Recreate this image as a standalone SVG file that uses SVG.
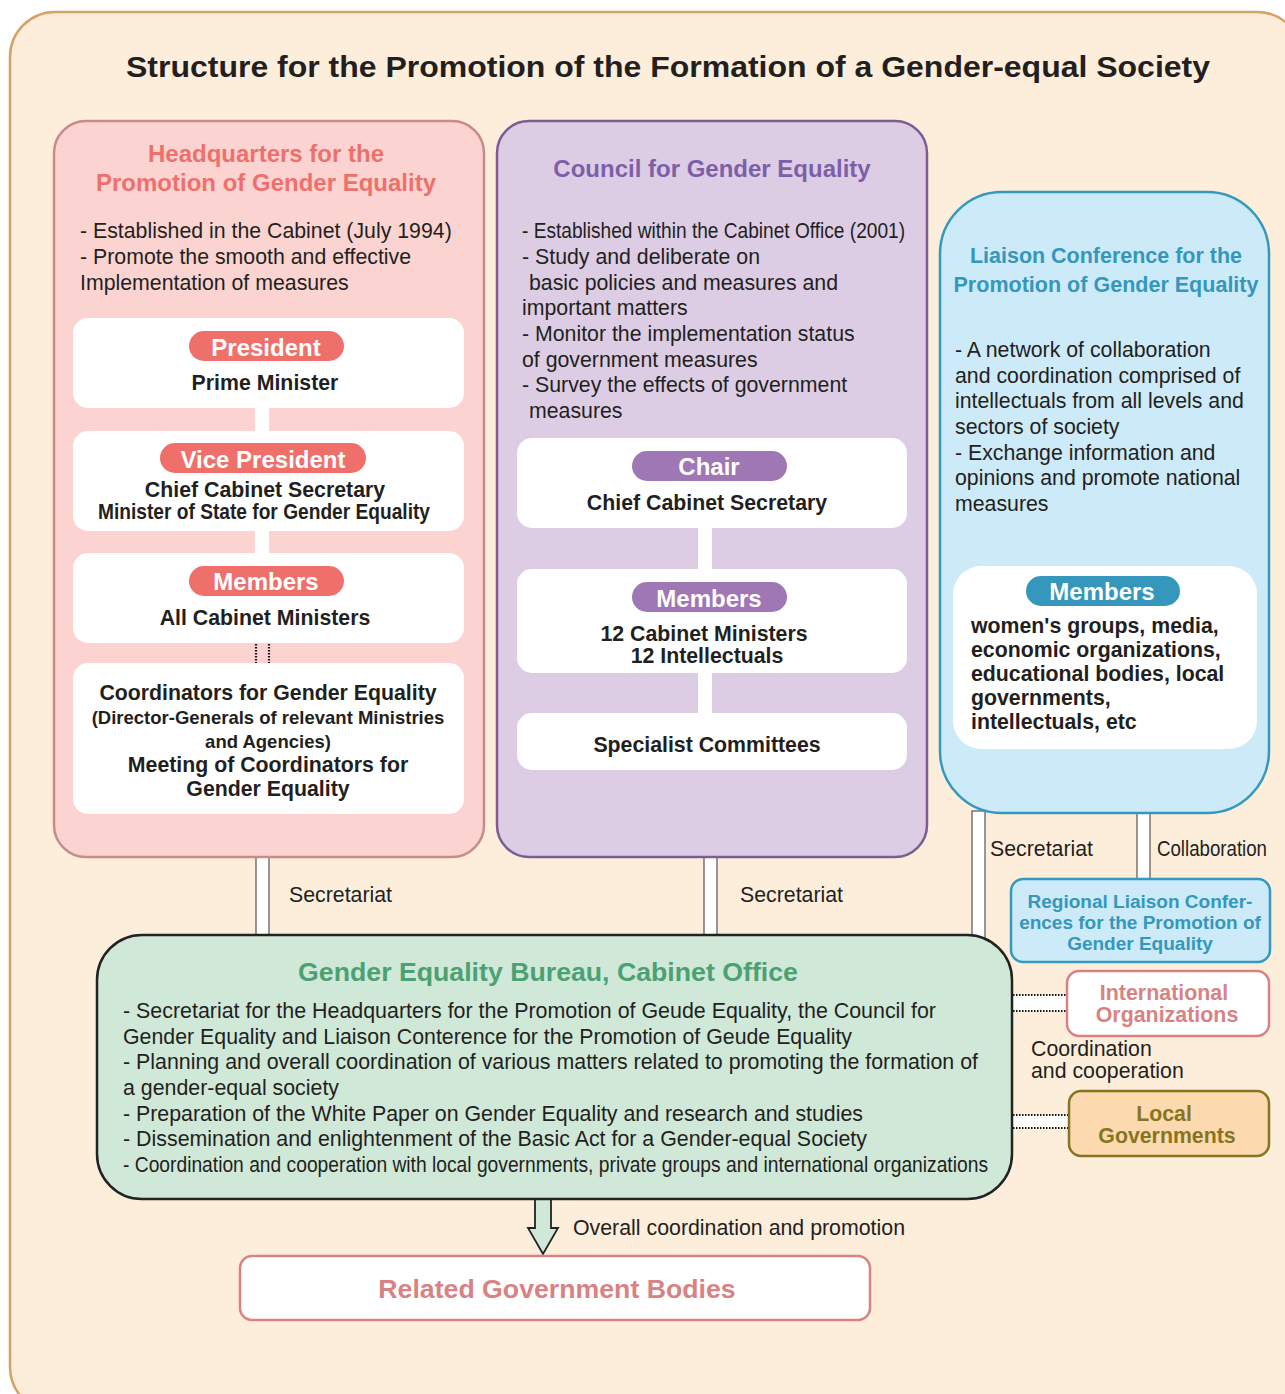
<svg xmlns="http://www.w3.org/2000/svg" width="1285" height="1394" viewBox="0 0 1285 1394">
<style>
text{font-family:"Liberation Sans",Arial,sans-serif;fill:#231f20}
.t{font-size:21.3px}
.b{font-weight:bold}
.c{text-anchor:middle}
.wb{fill:#fff;stroke:none}
.badge{font-size:24px;font-weight:bold;fill:#fff;text-anchor:middle}
.red{fill:#ef6f6b}
.pur{fill:#7c5fa8}
.blu{fill:#3597bb}
.grn{fill:#4ba172}
.pink{fill:#d98283}
.olive{fill:#857521}
.dbl{fill:#fff;stroke:#555;stroke-width:1.2}
.dot{stroke:#111;stroke-width:2.2;stroke-dasharray:1.5 1.5;fill:none}
</style>
<rect x="10" y="12" width="1292" height="1400" rx="45" fill="#fdeedc" stroke="#d6a165" stroke-width="2.5"/>
<text x="668" y="77" class="b c" font-size="30" textLength="1084" lengthAdjust="spacingAndGlyphs">Structure for the Promotion of the Formation of a Gender-equal Society</text>

<g id="connectors">
<rect class="dbl" x="256" y="856" width="13" height="81"/>
<rect class="dbl" x="704" y="856" width="13" height="81"/>
<rect class="dbl" x="972" y="811" width="13" height="132"/>
<rect class="dbl" x="1137" y="811" width="13" height="70"/>
<rect x="1013" y="995" width="54" height="16" fill="#fff"/>
<line class="dot" x1="1013" y1="995" x2="1067" y2="995"/>
<line class="dot" x1="1013" y1="1011" x2="1067" y2="1011"/>
<rect x="1013" y="1115" width="56" height="13" fill="#fff"/>
<line class="dot" x1="1013" y1="1115" x2="1069" y2="1115"/>
<line class="dot" x1="1013" y1="1128" x2="1069" y2="1128"/>
<text x="289" y="902" class="t">Secretariat</text>
<text x="740" y="902" class="t">Secretariat</text>
<text x="990" y="856" class="t">Secretariat</text>
<text x="1157" y="856" class="t" textLength="110" lengthAdjust="spacingAndGlyphs">Collaboration</text>
<text x="1031" y="1056" class="t">Coordination</text>
<text x="1031" y="1078" class="t">and cooperation</text>
<path d="M535 1199 V1228 H528 L543 1254 L558 1228 H551 V1199 Z" fill="#d0e8d8" stroke="#222" stroke-width="1.8" stroke-linejoin="miter"/>
<text x="573" y="1235" class="t" textLength="332" lengthAdjust="spacingAndGlyphs">Overall coordination and promotion</text>
</g>

<g id="headquarters">
<rect x="54" y="121" width="430" height="736" rx="32" fill="#fbd4d2" stroke="#c98a8a" stroke-width="2.5"/>
<text x="266" y="162" class="b c red" font-size="24">Headquarters for the</text>
<text x="266" y="191" class="b c red" font-size="24">Promotion of Gender Equality</text>
<text x="80" y="238" class="t">- Established in the Cabinet (July 1994)</text>
<text x="80" y="264" class="t">- Promote the smooth and effective</text>
<text x="80" y="290" class="t">Implementation of measures</text>
<rect class="wb" x="255" y="400" width="14" height="40"/>
<rect class="wb" x="255" y="525" width="14" height="35"/>
<line class="dot" x1="256" y1="644" x2="256" y2="663"/>
<line class="dot" x1="269" y1="644" x2="269" y2="663"/>
<g id="president">
<rect class="wb" x="73" y="318" width="391" height="90" rx="15"/>
<rect x="189" y="331" width="155" height="30" rx="15" fill="#ef6f6b"/>
<text x="266" y="356" class="badge">President</text>
<text x="265" y="390" class="t b c">Prime Minister</text>
</g>
<g id="vice-president">
<rect class="wb" x="73" y="431" width="391" height="100" rx="15"/>
<rect x="160" y="443" width="206" height="30" rx="15" fill="#ef6f6b"/>
<text x="263" y="468" class="badge">Vice President</text>
<text x="265" y="497" class="t b c">Chief Cabinet Secretary</text>
<text x="264" y="519" class="t b c" textLength="332" lengthAdjust="spacingAndGlyphs">Minister of State for Gender Equality</text>
</g>
<g id="hq-members">
<rect class="wb" x="73" y="553" width="391" height="90" rx="15"/>
<rect x="189" y="566" width="155" height="30" rx="15" fill="#ef6f6b"/>
<text x="266" y="590" class="badge">Members</text>
<text x="265" y="625" class="t b c">All Cabinet Ministers</text>
</g>
<g id="coordinators">
<rect class="wb" x="73" y="663" width="391" height="151" rx="15"/>
<text x="268" y="700" class="t b c">Coordinators for Gender Equality</text>
<text x="268" y="724" class="b c" font-size="18.5">(Director-Generals of relevant Ministries</text>
<text x="268" y="748" class="b c" font-size="18.5">and Agencies)</text>
<text x="268" y="772" class="t b c">Meeting of Coordinators for</text>
<text x="268" y="796" class="t b c">Gender Equality</text>
</g>
</g>

<g id="council">
<rect x="497" y="121" width="430" height="736" rx="32" fill="#dccde5" stroke="#7d5c94" stroke-width="2.5"/>
<text x="712" y="177" class="b c pur" font-size="24">Council for Gender Equality</text>
<text x="522" y="238" class="t" textLength="383" lengthAdjust="spacingAndGlyphs">- Established within the Cabinet Office (2001)</text>
<text x="522" y="264" class="t">- Study and deliberate on</text>
<text x="529" y="290" class="t">basic policies and measures and</text>
<text x="522" y="315" class="t">important matters</text>
<text x="522" y="341" class="t">- Monitor the implementation status</text>
<text x="522" y="367" class="t">of government measures</text>
<text x="522" y="392" class="t">- Survey the effects of government</text>
<text x="529" y="418" class="t">measures</text>
<rect class="wb" x="698" y="520" width="14" height="56"/>
<rect class="wb" x="698" y="665" width="14" height="55"/>
<g id="chair">
<rect class="wb" x="517" y="438" width="390" height="90" rx="15"/>
<rect x="632" y="451" width="155" height="30" rx="15" fill="#9f77b4"/>
<text x="709" y="475" class="badge">Chair</text>
<text x="707" y="510" class="t b c">Chief Cabinet Secretary</text>
</g>
<g id="council-members">
<rect class="wb" x="517" y="569" width="390" height="104" rx="15"/>
<rect x="632" y="582" width="155" height="30" rx="15" fill="#9f77b4"/>
<text x="709" y="607" class="badge">Members</text>
<text x="704" y="641" class="t b c">12 Cabinet Ministers</text>
<text x="707" y="663" class="t b c">12 Intellectuals</text>
</g>
<g id="specialist">
<rect class="wb" x="517" y="713" width="390" height="57" rx="15"/>
<text x="707" y="752" class="t b c">Specialist Committees</text>
</g>
</g>

<g id="liaison">
<rect x="940" y="192" width="329" height="621" rx="62" fill="#cdeaf8" stroke="#3599bd" stroke-width="2.5"/>
<text x="1106" y="263" class="b c blu" font-size="22" textLength="272" lengthAdjust="spacingAndGlyphs">Liaison Conference for the</text>
<text x="1106" y="292" class="b c blu" font-size="22" textLength="305" lengthAdjust="spacingAndGlyphs">Promotion of Gender Equality</text>
<text x="955" y="357" class="t">- A network of collaboration</text>
<text x="955" y="383" class="t">and coordination comprised of</text>
<text x="955" y="408" class="t">intellectuals from all levels and</text>
<text x="955" y="434" class="t">sectors of society</text>
<text x="955" y="460" class="t">- Exchange information and</text>
<text x="955" y="485" class="t">opinions and promote national</text>
<text x="955" y="511" class="t">measures</text>
<g id="liaison-members">
<rect class="wb" x="953" y="566" width="304" height="183" rx="28"/>
<rect x="1026" y="576" width="154" height="30" rx="15" fill="#3597bb"/>
<text x="1102" y="600" class="badge">Members</text>
<text x="971" y="633" class="t b">women's groups, media,</text>
<text x="971" y="657" class="t b">economic organizations,</text>
<text x="971" y="681" class="t b">educational bodies, local</text>
<text x="971" y="705" class="t b">governments,</text>
<text x="971" y="729" class="t b">intellectuals, etc</text>
</g>
</g>

<g id="regional">
<rect x="1011" y="879" width="259" height="83" rx="12" fill="#cdeaf8" stroke="#3599bd" stroke-width="2.5"/>
<text x="1140" y="908" class="b c blu" font-size="19">Regional Liaison Confer-</text>
<text x="1140" y="929" class="b c blu" font-size="19">ences for the Promotion of</text>
<text x="1140" y="950" class="b c blu" font-size="19">Gender Equality</text>
</g>

<g id="international">
<rect x="1067" y="971" width="202" height="65" rx="12" fill="#fff" stroke="#d98283" stroke-width="2.5"/>
<text x="1164" y="1000" class="b c pink" font-size="21.4">International</text>
<text x="1167" y="1022" class="b c pink" font-size="21.4">Organizations</text>
</g>

<g id="local">
<rect x="1069" y="1091" width="200" height="65" rx="12" fill="#fdd9b0" stroke="#857521" stroke-width="2.5"/>
<text x="1164" y="1121" class="b c olive" font-size="21.3">Local</text>
<text x="1167" y="1143" class="b c olive" font-size="21.3">Governments</text>
</g>

<g id="bureau">
<rect x="97" y="935" width="915" height="264" rx="45" fill="#d0e8d8" stroke="#222" stroke-width="2.5"/>
<text x="548" y="981" class="b c grn" font-size="26.7">Gender Equality Bureau, Cabinet Office</text>
<text x="123" y="1018" class="t" textLength="813" lengthAdjust="spacingAndGlyphs">- Secretariat for the Headquarters for the Promotion of Geude Equality, the Council for</text>
<text x="123" y="1044" class="t" textLength="729" lengthAdjust="spacingAndGlyphs">Gender Equality and Liaison Conterence for the Promotion of Geude Equality</text>
<text x="123" y="1069" class="t" textLength="855" lengthAdjust="spacingAndGlyphs">- Planning and overall coordination of various matters related to promoting the formation of</text>
<text x="123" y="1095" class="t" textLength="216" lengthAdjust="spacingAndGlyphs">a gender-equal society</text>
<text x="123" y="1121" class="t" textLength="740" lengthAdjust="spacingAndGlyphs">- Preparation of the White Paper on Gender Equality and research and studies</text>
<text x="123" y="1146" class="t" textLength="744" lengthAdjust="spacingAndGlyphs">- Dissemination and enlightenment of the Basic Act for a Gender-equal Society</text>
<text x="123" y="1172" class="t" textLength="865" lengthAdjust="spacingAndGlyphs">- Coordination and cooperation with local governments, private groups and international organizations</text>
</g>

<g id="related">
<rect x="240" y="1256" width="630" height="64" rx="12" fill="#fff" stroke="#d98283" stroke-width="2.5"/>
<text x="557" y="1298" class="b c pink" font-size="26.7">Related Government Bodies</text>
</g>
</svg>
